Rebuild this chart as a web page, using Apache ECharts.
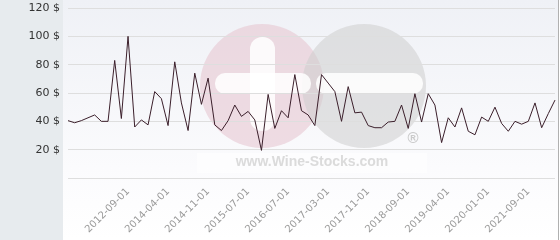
<!DOCTYPE html>
<html>
<head>
<meta charset="utf-8">
<script src="https://cdn.jsdelivr.net/npm/echarts@6/dist/echarts.min.js"></script>
<style>html,body{margin:0;padding:0;background:#fff}#c{width:560px;height:240px}</style>
</head>
<body>
<div id="c"></div>
<script>
const categories = [
 '2010-06-01','2010-09-01','2010-12-01','2011-03-01','2011-06-01','2011-09-01','2011-12-01','2012-03-01','2012-06-01','2012-09-01',
 '2012-12-01','2013-03-01','2013-06-01','2013-09-01','2013-12-01','2014-04-01','2014-05-01','2014-06-01','2014-07-01','2014-08-01',
 '2014-09-01','2014-11-01','2014-12-01','2015-01-01','2015-03-01','2015-04-01','2015-05-01','2015-07-01','2015-09-01','2015-11-01',
 '2016-01-01','2016-03-01','2016-05-01','2016-07-01','2016-08-01','2016-10-01','2016-11-01','2017-01-01','2017-02-01','2017-03-01',
 '2017-04-01','2017-06-01','2017-07-01','2017-08-01','2017-10-01','2017-11-01','2018-01-01','2018-03-01','2018-04-01','2018-06-01',
 '2018-07-01','2018-09-01','2018-10-01','2018-11-01','2018-12-01','2019-01-01','2019-03-01','2019-04-01','2019-06-01','2019-07-01',
 '2019-09-01','2019-10-01','2019-12-01','2020-01-01','2020-05-01','2020-08-01','2020-11-01','2021-02-01','2021-06-01','2021-09-01',
 '2021-12-01','2022-03-01','2022-06-01','2022-09-01'
];
const prices = [
 40.5,39,40.5,42.5,44.5,40,40,83,42,100,
 36,41,37.5,61,56,37,82,53,33.5,74,
 52,70.5,37.5,33.5,40.5,51.5,43.5,47,41,19.5,
 59,35,47.5,42.5,73,47.5,44.5,37,73,67,
 61,40,64.5,46,46.5,37,35.5,35.5,39.5,40,
 51.5,35,59.5,39.5,59.5,51.5,25,42.5,36,49.5,
 33,30.5,43,40,50,38.5,33,40,38,40,
 53,35.5,45.5,55
];
const shownLabels = ['2012-09-01','2014-04-01','2014-11-01','2015-07-01','2016-07-01','2017-03-01',
 '2017-11-01','2018-09-01','2019-04-01','2020-01-01','2021-09-01'];
const yTicks = [0, 20, 40, 60, 80, 100, 120];
const currency = '$';

const chart = echarts.init(document.getElementById('c'), null, {renderer: 'canvas'});
chart.setOption({
  animation: false,
  backgroundColor: '#ffffff',
  graphic: [
    {type: 'rect', z: -10, shape: {x: 0, y: 0, width: 63, height: 240}, style: {fill: '#e7ebee'}},
    {type: 'rect', z: -10, shape: {x: 63, y: 0, width: 495, height: 240},
     style: {fill: new echarts.graphic.LinearGradient(0, 0, 0, 1, [
       {offset: 0, color: '#eff1f6'}, {offset: 0.7, color: '#fbfbfd'}, {offset: 1, color: '#ffffff'}])}},
    {type: 'line', z: -9, shape: {x1: 558.5, y1: 0, x2: 558.5, y2: 240}, style: {stroke: '#b0b0b0', lineWidth: 1}},
    {type: 'group', z: 1, silent: true, children: [
      {type: 'rect', shape: {x: 197, y: 153, width: 230, height: 20}, style: {fill: 'rgba(255,255,255,0.6)'}},
      {type: 'circle', shape: {cx: 262, cy: 86, r: 62}, style: {fill: 'rgba(230,195,206,0.55)'}},
      {type: 'circle', shape: {cx: 364, cy: 86, r: 62}, style: {fill: 'rgba(205,205,205,0.55)'}},
      {type: 'rect', shape: {x: 250, y: 37, width: 25, height: 94, r: 12}, style: {fill: 'rgba(255,255,255,0.85)'}},
      {type: 'rect', shape: {x: 215, y: 73, width: 96, height: 21, r: 10}, style: {fill: 'rgba(255,255,255,0.85)'}},
      {type: 'rect', shape: {x: 316, y: 73, width: 107, height: 21, r: 10}, style: {fill: 'rgba(255,255,255,0.85)'}},
      {type: 'text', x: 413, y: 139, style: {text: '®', fill: 'rgba(190,190,190,0.8)', font: 'bold 15px "Liberation Sans"', align: 'center', verticalAlign: 'middle'}},
      {type: 'text', x: 312, y: 162, style: {text: 'www.Wine-Stocks.com', fill: 'rgba(210,210,210,0.8)', font: 'bold 14px "Liberation Sans"', align: 'center', verticalAlign: 'middle'}}
    ]}
  ],
  grid: {left: 68, right: 5, top: 8, bottom: 62, containLabel: false},
  xAxis: {
    type: 'category',
    data: categories,
    boundaryGap: false,
    axisLine: {show: false},
    axisTick: {show: false},
    axisLabel: {
      rotate: 45,
      interval: (i, v) => shownLabels.indexOf(v) >= 0,
      color: '#9a9a9a',
      fontSize: 10,
      fontFamily: 'DejaVu Sans',
      margin: 12
    },
    splitLine: {show: false}
  },
  yAxis: {
    type: 'value',
    min: yTicks[0],
    max: yTicks[yTicks.length - 1],
    interval: 20,
    axisLine: {show: false},
    axisTick: {show: false},
    axisLabel: {
      color: '#333',
      fontSize: 11,
      fontFamily: 'DejaVu Sans',
      margin: 8,
      formatter: (v) => v === 0 ? '' : v + ' ' + currency
    },
    splitLine: {lineStyle: {color: '#dedede', width: 1}}
  },
  series: [{
    type: 'line',
    data: prices,
    showSymbol: false,
    symbol: 'none',
    z: 5,
    lineStyle: {color: '#3b1f2b', width: 1}
  }]
});
</script>
</body>
</html>
